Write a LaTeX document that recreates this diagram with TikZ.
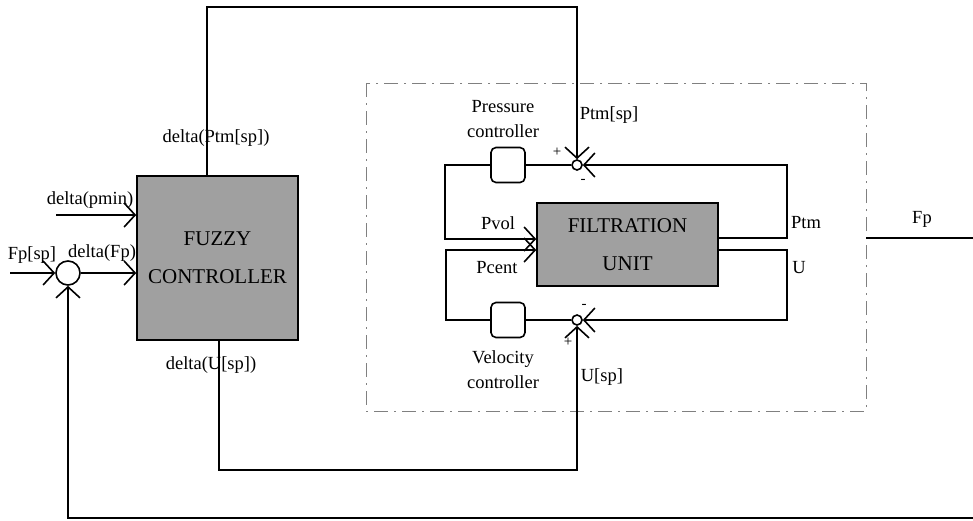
\documentclass[tikz,border=0pt]{standalone}
\usepackage{fontspec}
\setmainfont{Liberation Serif}
\usetikzlibrary{arrows.meta,calc}
\definecolor{boxgray}{RGB}{160,160,160}
\begin{document}
\begin{tikzpicture}[x=1pt,y=-1pt,line width=1.6pt,
  font=\fontsize{18.5}{22}\selectfont,
  arr/.style={-{Straight Barb[length=11pt,width=24pt,line width=1.6pt]}},
  bigbox/.style={draw,fill=boxgray,inner sep=0pt,align=center,font=\fontsize{21}{38}\selectfont},
  ctrl/.style={draw,rounded corners=5pt,minimum width=34pt,minimum height=35pt,inner sep=0pt},
  sumj/.style={draw,circle,inner sep=0pt,minimum size=10pt},
  lbl/.style={inner sep=0pt},
  sgn/.style={inner sep=0pt,font=\fontsize{15}{15}\selectfont},
  frame/.style={line width=0.8pt,draw=gray,dash pattern=on 14pt off 6pt on 2pt off 6pt}]
\useasboundingbox (0,0) rectangle (973,520);

% dashed frame
\draw[frame] (366,83) rectangle (866,411);

% main blocks
\node[bigbox,minimum width=161pt,minimum height=164pt] (fz) at (217.5,258) {FUZZY\\CONTROLLER};
\node[bigbox,minimum width=181pt,minimum height=83pt] (filt) at (627.5,244.5) {FILTRATION\\UNIT};
\node[ctrl] (pc) at (508,165) {};
\node[ctrl] (vc) at (508,320) {};
\node[sumj] (sp) at (577,165) {};
\node[sumj] (sv) at (577,320) {};
\node[sumj,minimum size=24pt] (sf) at (68,273) {};

% coordinates
\coordinate (tl) at (207,7);
\coordinate (tr) at (577,7);
\coordinate (bl) at (219,470);
\coordinate (br) at (577,470);
\coordinate (fpin) at (10,273);
\coordinate (pm) at (56,215);
\coordinate (fb1) at (973,518);
\coordinate (fb2) at (68,518);
\coordinate (fpo1) at (866,238);
\coordinate (fpo2) at (973,238);
\coordinate (pr) at (787,238);
\coordinate (pt) at (787,165);
\coordinate (pl1) at (445,165);
\coordinate (pl2) at (445,239);
\coordinate (ur) at (787,250);
\coordinate (ub) at (787,320);
\coordinate (vl1) at (446,320);
\coordinate (vl2) at (446,250);

% fuzzy connections
\draw[arr] (fz.north -| tl) -- (tl) -- (tr) -- (sp);
\draw[arr] (fz.south -| bl) -- (bl) -- (br) -- (sv);
\draw[arr] (fpin) -- (sf);
\draw[arr] (sf) -- (fz.west |- sf);
\draw[arr] (pm) -- (fz.west |- pm);
\draw[arr] (fb1) -- (fb2) -- (sf);
\draw (fpo1) -- (fpo2);

% pressure loop
\draw[arr] (filt.east |- pr) -- (pr) -- (pt) -- (sp);
\draw (sp) -- (pc);
\draw[arr] (pc) -- (pl1) -- (pl2) -- (filt.west |- pl2);

% velocity loop
\draw[arr] (filt.east |- ur) -- (ur) -- (ub) -- (sv);
\draw (sv) -- (vc);
\draw[arr] (vc) -- (vl1) -- (vl2) -- (filt.west |- vl2);

% labels
\node[lbl] (l1) at (216,138) {delta(Ptm[sp])};
\node[lbl] (l2) at (211,365) {delta(U[sp])};
\node[lbl] (l3) at (90,200) {delta(pmin)};
\node[lbl] (l4) at (32,255) {Fp[sp]};
\node[lbl] (l5) at (102,253) {delta(Fp)};
\node[lbl,align=center,font=\fontsize{18.5}{25}\selectfont] (l6) at (503,119) {Pressure\\controller};
\node[lbl,align=center,font=\fontsize{18.5}{25}\selectfont] (l7) at (503,370) {Velocity\\controller};
\node[lbl,anchor=west] (l8) at (579,115) {Ptm[sp]};
\node[lbl,anchor=west] (l9) at (580,377) {U[sp]};
\node[lbl] (l10) at (498,223) {Pvol};
\node[lbl] (l11) at (497,268) {Pcent};
\node[lbl] (l12) at (806,223) {Ptm};
\node[lbl] (l13) at (799,268) {U};
\node[lbl] (l14) at (922,219) {Fp};
\node[sgn] (s1) at (557,152) {+};
\node[sgn] (s2) at (583,181) {-};
\node[sgn] (s3) at (584,306) {-};
\node[sgn] (s4) at (568,342) {+};
\end{tikzpicture}
\end{document}
